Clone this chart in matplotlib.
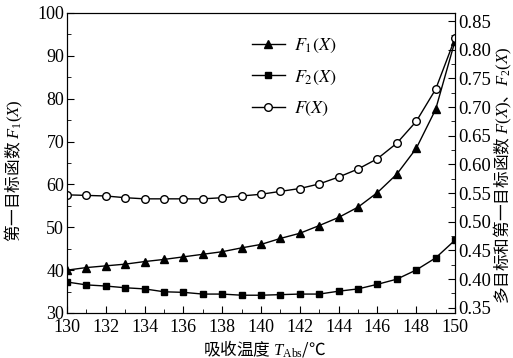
import matplotlib
matplotlib.use('Agg')
import matplotlib.pyplot as plt
from matplotlib.ticker import MultipleLocator, FormatStrFormatter

plt.rcParams['font.family'] = ['Liberation Serif', 'Noto Sans CJK SC']
plt.rcParams['mathtext.fontset'] = 'custom'
plt.rcParams['mathtext.rm'] = 'Liberation Serif'
plt.rcParams['mathtext.it'] = 'Liberation Serif:italic'
plt.rcParams['mathtext.bf'] = 'Liberation Serif:bold'

# absorption temperature, deg C
temps = [130, 131, 132, 133, 134, 135, 136, 137, 138, 139, 140,
         141, 142, 143, 144, 145, 146, 147, 148, 149, 150]

# first objective F1(X), left axis
f1 = [40.0, 40.6, 41.0, 41.4, 42.0, 42.5, 43.1, 43.7, 44.3, 45.2, 46.0,
      47.4, 48.6, 50.4, 52.3, 54.7, 58.1, 62.4, 68.4, 77.5, 93.5]

# second objective F2(X), right axis
f2 = [0.395, 0.390, 0.388, 0.385, 0.383, 0.378, 0.377, 0.374, 0.374, 0.372, 0.372,
      0.373, 0.374, 0.374, 0.379, 0.383, 0.391, 0.400, 0.416, 0.437, 0.468]

# multi-objective F(X), right axis
f_all = [0.547, 0.546, 0.545, 0.542, 0.540, 0.540, 0.540, 0.540, 0.542, 0.545, 0.548,
         0.553, 0.558, 0.566, 0.578, 0.592, 0.610, 0.637, 0.675, 0.731, 0.820]

# mathtext only looks at the first family, so CJK labels get the CJK font first
CJK = {'family': 'Noto Sans CJK SC'}

fig = plt.figure(figsize=(5.13, 3.58), dpi=100)
ax = fig.add_axes([0.1306, 0.1257, 0.7564, 0.838])
ax2 = ax.twinx()

l1, = ax.plot(temps, f1, color='black', lw=1.0, marker='^', ms=6, label='$F_1(X)$')
l2, = ax2.plot(temps, f2, color='black', lw=1.0, marker='s', ms=5, label='$F_2(X)$')
l3, = ax2.plot(temps, f_all, color='black', lw=1.0, marker='o', ms=5.5,
               markerfacecolor='white', markeredgewidth=1.0, label='$F(X)$')

ax.set_xlim(130, 150)
ax.set_ylim(30, 100)
ax2.set_ylim(0.341, 0.864)

ax.xaxis.set_major_locator(MultipleLocator(2))
ax.xaxis.set_minor_locator(MultipleLocator(1))
ax.yaxis.set_major_locator(MultipleLocator(10))
ax.yaxis.set_minor_locator(MultipleLocator(5))
ax2.yaxis.set_major_locator(MultipleLocator(0.05))
ax2.yaxis.set_minor_locator(MultipleLocator(0.025))
ax2.yaxis.set_major_formatter(FormatStrFormatter('%.2f'))

ax.tick_params(axis='both', which='both', direction='in', labelsize=13, top=False)
ax.tick_params(which='major', length=5)
ax.tick_params(which='minor', length=3)
ax2.tick_params(axis='y', which='both', direction='in', labelsize=13.5, pad=2)
ax2.tick_params(which='major', length=5)
ax2.tick_params(which='minor', length=3)
ax.tick_params(axis='y', pad=2)
ax.tick_params(axis='x', pad=4)

ax.set_xlabel('吸收温度 $T_{\\mathrm{Abs}}$/℃', fontsize=12, **CJK)
ax.set_ylabel('第一目标函数 $F_1(X)$', fontsize=12, **CJK)
ax2.set_ylabel('多目标和第一目标函数 $F(X)$、$F_2(X)$', fontsize=12, **CJK)
ax.xaxis.set_label_coords(0.51, -0.085)
ax.yaxis.set_label_coords(-0.107, 0.475)
ax2.yaxis.set_label_coords(1.094, 0.46)

ax.legend(handles=[l1, l2, l3], loc='upper left', bbox_to_anchor=(0.435, 0.975),
          frameon=False, handlelength=1.8, labelspacing=0.75, handletextpad=0.5,
          prop={'size': 13, 'math_fontfamily': 'stix'})

fig.savefig('out.png', dpi=100)
